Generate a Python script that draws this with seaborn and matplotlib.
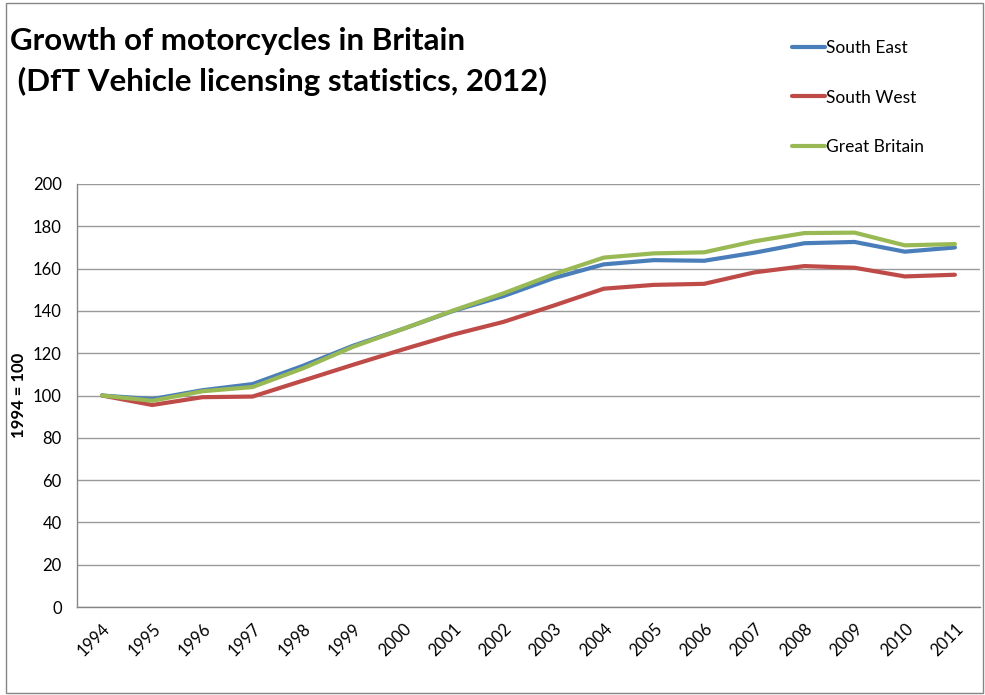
import matplotlib
matplotlib.use("Agg")
import pandas as pd
import numpy as np
import matplotlib.pyplot as plt
import seaborn as sns
from matplotlib.patches import Rectangle

years = [str(y) for y in range(1994, 2012)]
south_east = [100, 98.3, 102.5, 105.4, 114.0, 123.5, 131.5, 140.0, 147.0, 155.5,
              162.0, 164.0, 163.7, 167.5, 172.0, 172.6, 168.0, 170.0]
south_west = [100, 95.5, 99.2, 99.5, 107.0, 114.5, 121.8, 128.8, 134.8, 142.5,
              150.5, 152.3, 152.8, 158.2, 161.2, 160.4, 156.3, 157.1]
great_britain = [100, 97.5, 102.0, 104.0, 112.8, 123.0, 131.5, 140.2, 148.3, 157.3,
                 165.2, 167.2, 167.7, 172.9, 176.8, 177.0, 171.0, 171.6]
series_names = ["South East", "South West", "Great Britain"]
colors = ["#4A7EBB", "#BE4B48", "#98B954"]

df = pd.DataFrame({"South East": south_east, "South West": south_west,
                   "Great Britain": great_britain})
df["pos"] = np.arange(len(years))
long_df = df.melt(id_vars="pos", var_name="series", value_name="index")

sns.set_style("white")
plt.rcParams["font.family"] = ["Lato", "DejaVu Sans"]
plt.rcParams["text.color"] = "black"
plt.rcParams["xtick.color"] = "black"
plt.rcParams["ytick.color"] = "black"
plt.rcParams["axes.labelcolor"] = "black"

fig = plt.figure(figsize=(9.85, 6.95), dpi=100)
ax = fig.add_axes([77 / 985, 1 - 607 / 695, (980 - 77) / 985, (607 - 184) / 695])

sns.lineplot(data=long_df, x="pos", y="index", hue="series", hue_order=series_names,
             palette=colors, linewidth=3, ax=ax, legend=False)

ax.set_xlim(-0.5, len(years) - 0.5)
ax.set_ylim(0, 200)
ax.set_yticks(range(0, 201, 20))
ax.tick_params(axis="y", labelsize=12, length=5, color="#868686", pad=6)
ax.grid(axis="y", color="#9a9a9a", linewidth=1)
ax.set_axisbelow(True)

# tick marks between categories, labels at category centres
ax.set_xticks(np.arange(-0.5, len(years), 1))
ax.set_xticklabels([])
ax.set_xticks(np.arange(len(years)), minor=True)
ax.set_xticklabels(years, minor=True, rotation=45, ha="right", rotation_mode="anchor",
                   fontsize=12)
ax.tick_params(axis="x", which="major", length=5, color="#868686")
ax.tick_params(axis="x", which="minor", length=0, pad=10)

for side in ["top", "right"]:
    ax.spines[side].set_visible(False)
for side in ["left", "bottom"]:
    ax.spines[side].set_color("#868686")
    ax.spines[side].set_linewidth(1)

ax.set_xlabel("")
ax.set_ylabel("1994 = 100", fontsize=12, fontweight="bold", labelpad=4)

fig.text(10 / 985, 1 - 41 / 695, "Growth of motorcycles in Britain", fontsize=22.5,
         fontweight="bold", va="center", ha="left")
fig.text(10 / 985, 1 - 81 / 695, " (DfT Vehicle licensing statistics, 2012)", fontsize=22.5,
         fontweight="bold", va="center", ha="left")

handles = [plt.Line2D([], [], color=c, linewidth=3) for c in colors]
fig.legend(handles, series_names, loc="upper left", bbox_to_anchor=(783 / 985, 1 - 31 / 695),
           frameon=False, fontsize=12.5, handlelength=1.9, handletextpad=0.1,
           labelspacing=1.95, borderpad=0)

fig.patches.append(Rectangle((6 / 985, 2 / 695), 1 - 8 / 985, 1 - 5 / 695,
                             transform=fig.transFigure, fill=False,
                             edgecolor="#868686", linewidth=1))

fig.savefig("out.png", dpi=100)
